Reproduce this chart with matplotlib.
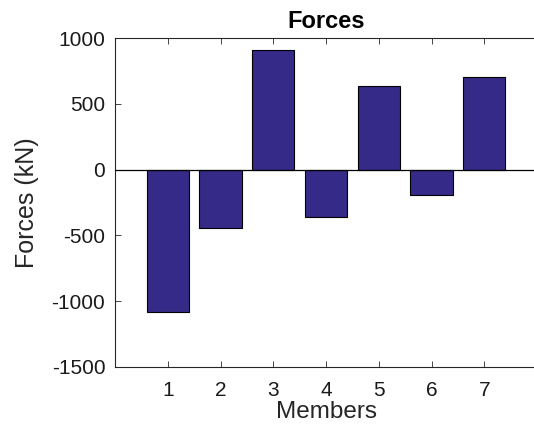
import matplotlib
matplotlib.use("Agg")
import matplotlib.pyplot as plt

members = [1, 2, 3, 4, 5, 6, 7]
forces = [-1085, -445, 908, -361, 634, -191, 700]
yticks = [-1500, -1000, -500, 0, 500, 1000]

plt.rcParams['font.family'] = ['Liberation Sans', 'DejaVu Sans']
plt.rcParams['axes.unicode_minus'] = False

W, H = 534, 428
fig = plt.figure(figsize=(W / 100, H / 100), dpi=100)
# the plot box runs slightly past the right edge of the canvas
ax = fig.add_axes([115 / W, 1 - 367 / H, 422 / W, (367 - 38) / H])

bar_color = '#352A87'
ax.bar(members, forces, width=0.8, color=bar_color, edgecolor='black',
       linewidth=0.8, zorder=2)
ax.axhline(0, color='black', linewidth=0.9, zorder=3)

ax.set_xlim(0, 8)
ax.set_ylim(-1500, 1000)
ax.set_xticks(members)
ax.set_yticks(yticks)

axis_col = '#262626'
for s in ax.spines.values():
    s.set_color(axis_col)
    s.set_linewidth(0.8)
ax.spines['right'].set_visible(False)
ax.tick_params(direction='in', length=4, width=0.6, color=axis_col,
               labelsize=15, labelcolor='#1a1a1a', top=True, right=False, pad=7)
ax.tick_params(axis='x', pad=10)

ax.set_xlabel('Members', fontsize=17.5, color='#262626', labelpad=1)
ax.set_ylabel('Forces (kN)', fontsize=18, color='#262626', labelpad=9)
ax.set_title('Forces', fontsize=17, fontweight='bold', pad=7)

fig.savefig('out.png', dpi=100)
